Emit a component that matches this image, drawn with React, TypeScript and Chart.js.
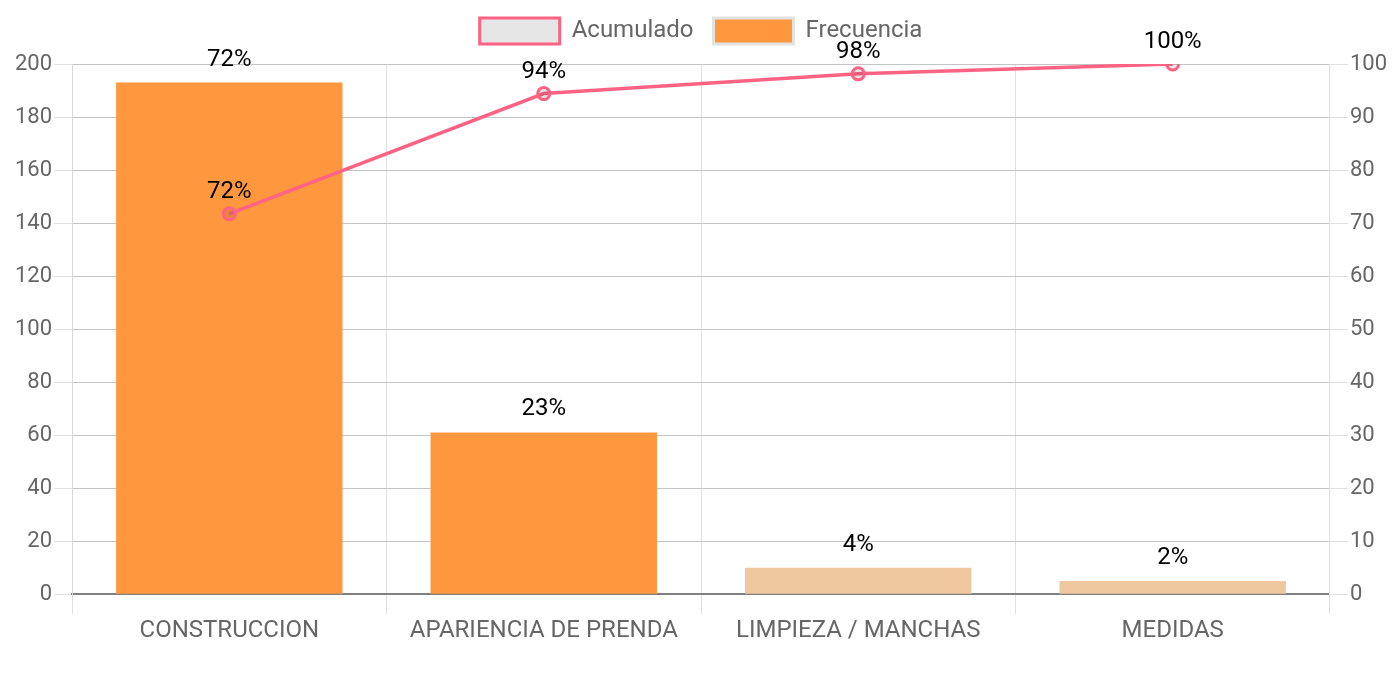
import React, { useEffect, useRef } from "react";
import { Chart, registerables } from "chart.js";

Chart.register(...registerables);

const categories = ["CONSTRUCCION", "APARIENCIA DE PRENDA", "LIMPIEZA / MANCHAS", "MEDIDAS"];
const frecuencia = [193, 61, 10, 5];
const acumulado = [71.75, 94.42, 98.14, 100];
const frecuenciaPct = [72, 23, 4, 2];
const acumuladoPct = [72, 94, 98, 100];
const barColors = ["rgb(255,151,62)", "rgb(255,151,62)", "rgb(239,200,160)", "rgb(239,200,160)"];
const leftTicks = { min: 0, max: 200, step: 20 };
const rightTicks = { min: 0, max: 100, step: 10 };

const FONT = "Roboto";

const labelPlugin = {
  id: "valueLabels",
  afterDatasetsDraw(chart: any) {
    const ctx = chart.ctx;
    ctx.save();
    ctx.font = `24px ${FONT}`;
    ctx.fillStyle = "#000";
    ctx.textAlign = "center";
    ctx.textBaseline = "middle";
    chart.data.datasets.forEach((ds: any, di: number) => {
      const meta = chart.getDatasetMeta(di);
      const labels = ds.type === "bar" ? frecuenciaPct : acumuladoPct;
      meta.data.forEach((el: any, i: number) => {
        const off = ds.type === "bar" ? 23 : 22;
        ctx.fillText(labels[i] + "%", el.x, el.y - off);
      });
    });
    ctx.restore();
  },
};

const legendSpacing = {
  id: "legendSpacing",
  afterInit(chart: any) {
    const legend = chart.legend;
    if (!legend) return;
    const orig = legend.fit;
    legend.fit = function () {
      orig.call(this);
      this.height += 10;
    };
  },
};

export default function App() {
  const ref = useRef<HTMLCanvasElement>(null);
  useEffect(() => {
    if (!ref.current) return;
    const chart = new Chart(ref.current, {
      type: "bar",
      data: {
        labels: categories,
        datasets: [
          {
            type: "line",
            label: "Acumulado",
            data: acumulado,
            yAxisID: "y1",
            borderColor: "rgb(255,99,132)",
            backgroundColor: "rgba(0,0,0,0.1)",
            borderWidth: 3.5,
            pointRadius: 6,
            pointBorderWidth: 3,
            pointBackgroundColor: "rgba(0,0,0,0.1)",
            tension: 0,
            fill: false,
          } as any,
          {
            type: "bar",
            label: "Frecuencia",
            data: frecuencia,
            yAxisID: "y",
            backgroundColor: barColors,
            borderWidth: 0,
            categoryPercentage: 0.8,
            barPercentage: 0.9,
          } as any,
        ],
      },
      options: {
        animation: false,
        responsive: true,
        maintainAspectRatio: false,
        layout: { padding: { left: 5, right: 3, top: 0, bottom: 45 } },
        plugins: {
          tooltip: { enabled: false },
          legend: {
            position: "top",
            labels: {
              boxWidth: 80,
              boxHeight: 26,
              color: "#666",
              font: { family: FONT, size: 24 },
              padding: 20,
              generateLabels(chart: any) {
                const items = Chart.defaults.plugins.legend.labels.generateLabels(chart);
                items.forEach((it: any) => {
                  if (it.text === "Frecuencia") {
                    it.fillStyle = barColors[0];
                    it.strokeStyle = "#e2e2e2";
                    it.lineWidth = 3;
                  } else {
                    it.fillStyle = "#e6e6e6";
                    it.strokeStyle = "rgb(255,99,132)";
                    it.lineWidth = 3;
                  }
                });
                return items;
              },
            },
          },
        },
        scales: {
          x: {
            offset: true,
            grid: { offset: true, color: "#e0e0e0", lineWidth: 1, tickLength: 20 },
            border: { color: "#808080", width: 2 },
            ticks: { color: "#666", font: { family: FONT, size: 24 }, padding: 2 },
          },
          y: {
            position: "left",
            min: leftTicks.min,
            max: leftTicks.max,
            grid: { color: "#c4c4c4", tickLength: 18, tickColor: "#e0e0e0" },
            border: { color: "#d8d8d8" },
            ticks: { stepSize: leftTicks.step, color: "#666", font: { family: FONT, size: 22 }, padding: 2 },
          },
          y1: {
            position: "right",
            min: rightTicks.min,
            max: rightTicks.max,
            grid: { drawOnChartArea: false, color: "#e0e0e0", tickLength: 18 },
            border: { color: "#e0e0e0" },
            ticks: { stepSize: rightTicks.step, color: "#666", font: { family: FONT, size: 22 }, padding: 2 },
          },
        },
      },
      plugins: [labelPlugin, legendSpacing],
    });
    return () => chart.destroy();
  }, []);
  return (
    <div style={{ width: "1384px", height: "694px", marginTop: "-10px", position: "relative" }}>
      <canvas ref={ref} />
    </div>
  );
}
